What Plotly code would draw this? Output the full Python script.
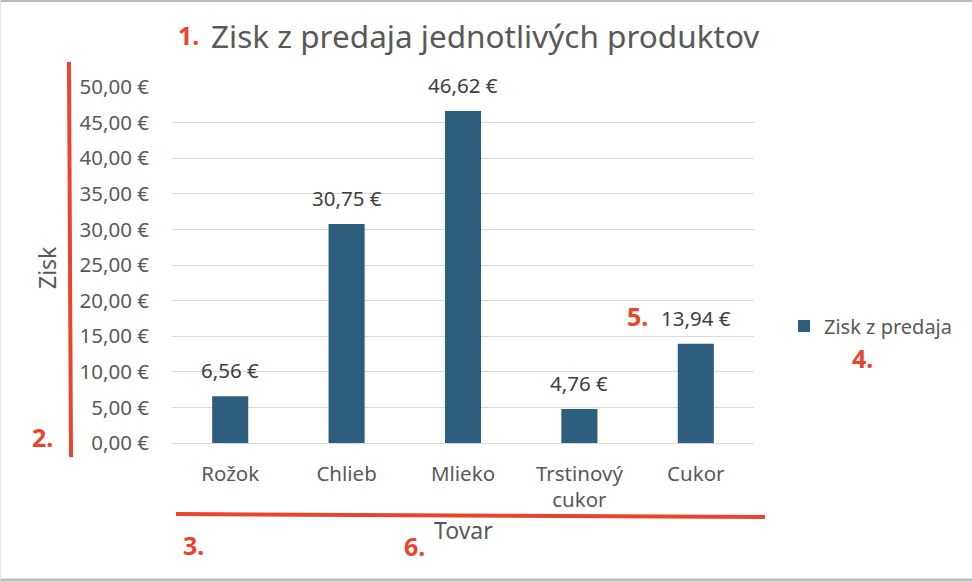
import plotly.graph_objects as go

categories = ["Rožok", "Chlieb", "Mlieko", "Trstinový<br>cukor", "Cukor"]
values = [6.56, 30.75, 46.62, 4.76, 13.94]
value_labels = ["6,56 €", "30,75 €", "46,62 €", "4,76 €", "13,94 €"]
tick_vals = [0, 5, 10, 15, 20, 25, 30, 35, 40, 45, 50]
tick_text = ["0,00 €", "5,00 €", "10,00 €", "15,00 €", "20,00 €", "25,00 €",
             "30,00 €", "35,00 €", "40,00 €", "45,00 €", "50,00 €"]
series_name = "Zisk z predaja"
title_text = "Zisk z predaja jednotlivých produktov"
x_title = "Tovar"
y_title = "Zisk"

W, H = 972, 582
L, R, T, B = 172, 218, 87, 139
PW, PH = W - L - R, H - T - B

def px(x):
    return (x - L) / PW

def py(y):
    return (H - B - y) / PH

FONT = "Noto Sans"
GRAY = "#595959"
RED = "#E8452C"
BAR = "#2E5E7E"

fig = go.Figure()
fig.add_trace(go.Bar(x=categories, y=values, name=series_name,
                     marker=dict(color=BAR, line=dict(width=0)),
                     width=0.31, showlegend=True))

annotations = []
for c, v, t in zip(categories, values, value_labels):
    annotations.append(dict(x=c, y=v, xref="x", yref="y", text=t, showarrow=False,
                            yanchor="middle", yshift=26,
                            font=dict(family=FONT, size=20.5, color="#404040")))

# title
annotations.append(dict(x=px(485), y=py(35), xref="paper", yref="paper", text=title_text,
                        showarrow=False, xanchor="center", yanchor="middle",
                        font=dict(family=FONT, size=31.5, color=GRAY)))
# axis titles
annotations.append(dict(x=px(463), y=py(530), xref="paper", yref="paper", text=x_title,
                        showarrow=False, xanchor="center", yanchor="middle",
                        font=dict(family=FONT, size=23, color=GRAY)))
annotations.append(dict(x=px(47), y=py(268), xref="paper", yref="paper", text=y_title,
                        showarrow=False, xanchor="center", yanchor="middle", textangle=-90,
                        font=dict(family=FONT, size=23, color=GRAY)))

# red markers
red_marks = [("1.", 188, 35), ("2.", 42, 437), ("3.", 193, 545),
             ("4.", 862, 358), ("5.", 637, 316), ("6.", 414, 546)]
for t, x, y in red_marks:
    annotations.append(dict(x=px(x), y=py(y), xref="paper", yref="paper", text="<b>" + t + "</b>",
                            showarrow=False, xanchor="center", yanchor="middle",
                            font=dict(family=FONT, size=25, color=RED)))

shapes = [
    dict(type="line", xref="paper", yref="paper", x0=px(69), y0=py(62), x1=px(71), y1=py(457),
         line=dict(color=RED, width=4)),
    dict(type="line", xref="paper", yref="paper", x0=px(176), y0=py(514), x1=px(765), y1=py(517),
         line=dict(color=RED, width=4)),
    # image frame
    dict(type="line", xref="paper", yref="paper", x0=px(0), y0=py(1), x1=px(972), y1=py(1),
         line=dict(color="#BBBBBB", width=2)),
    dict(type="line", xref="paper", yref="paper", x0=px(0), y0=py(580), x1=px(972), y1=py(580),
         line=dict(color="#BBBBBB", width=3)),
    dict(type="line", xref="paper", yref="paper", x0=px(0.5), y0=py(0), x1=px(0.5), y1=py(580),
         line=dict(color="#E4E4E4", width=1)),
]

fig.update_layout(
    width=W, height=H,
    margin=dict(l=L, r=R, t=T, b=B, pad=0),
    paper_bgcolor="white", plot_bgcolor="white",
    font=dict(family=FONT, color=GRAY),
    showlegend=True,
    legend=dict(x=px(784), y=py(326), xanchor="left", yanchor="middle",
                font=dict(family=FONT, size=20, color=GRAY),
                bgcolor="rgba(0,0,0,0)", itemwidth=30),
    annotations=annotations,
    shapes=shapes,
    bargap=0.69,
)
fig.update_xaxes(showgrid=False, showline=True, linecolor="#D9D9D9", linewidth=1,
                 ticks="", tickfont=dict(family=FONT, size=20.5, color=GRAY),
                 ticklabelstandoff=12)
fig.update_yaxes(range=[0, 50], tickvals=tick_vals, ticktext=tick_text,
                 showgrid=True, gridcolor="#D9D9D9", gridwidth=1, zeroline=False,
                 showline=False, ticks="",
                 tickfont=dict(family=FONT, size=20.5, color=GRAY),
                 ticklabelstandoff=22)

fig.write_html("out.html")
